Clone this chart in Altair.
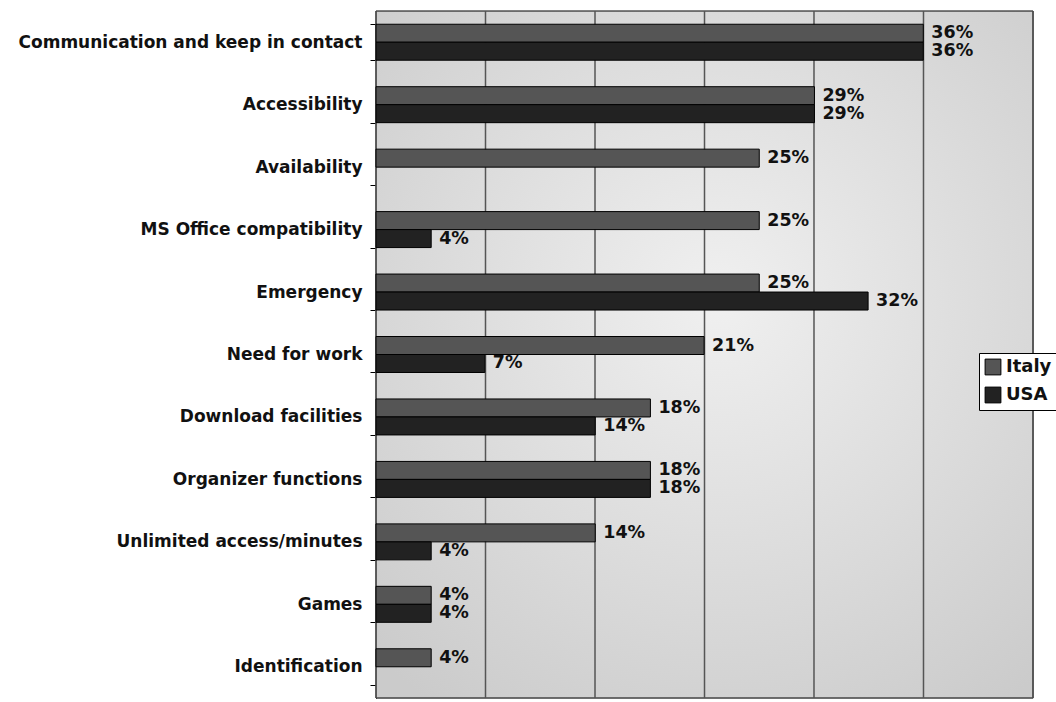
import altair as alt
import pandas as pd

categories = [
    "Communication and keep in contact",
    "Accessibility",
    "Availability",
    "MS Office compatibility",
    "Emergency",
    "Need for work\u00a0",
    "Download facilities",
    "Organizer functions\u00a0",
    "Unlimited access/minutes",
    "Games",
    "Identification",
]
series = ["Italy", "USA"]
italy = [35.7, 28.6, 25.0, 25.0, 25.0, 21.4, 17.9, 17.9, 14.3, 3.6, 3.6]
usa = [35.7, 28.6, None, 3.6, 32.1, 7.1, 14.3, 17.9, 3.6, 3.6, None]
grid_values = [0, 7.143, 14.286, 21.429, 28.571, 35.714, 42.857]
colors = ["#555555", "#222222"]

rows = []
for c, i, u in zip(categories, italy, usa):
    if i is not None:
        rows.append({"category": c, "series": "Italy", "value": i, "label": f"{i:.0f}%"})
    if u is not None:
        rows.append({"category": c, "series": "USA", "value": u, "label": f"{u:.0f}%"})
df = pd.DataFrame(rows)
grid_df = pd.DataFrame({"g": grid_values})

W, H = 657, 687
FONT = "DejaVu Sans"

xscale = alt.Scale(domain=[0, grid_values[-1]], nice=False, zero=True)
yscale = alt.Scale(domain=categories, paddingInner=0.424, paddingOuter=0.212)

bg = alt.Chart(pd.DataFrame({"a": [0]})).mark_rect(
    fill=alt.RadialGradient(
        gradient="radial",
        stops=[alt.GradientStop(color="#f0f0f0", offset=0),
               alt.GradientStop(color="#cbcbcb", offset=1)],
        x1=0.52, y1=0.42, r1=0, x2=0.52, y2=0.42, r2=0.72,
    ),
    stroke="black", strokeWidth=1,
).encode(x=alt.value(0), x2=alt.value(W), y=alt.value(0), y2=alt.value(H))

grid = alt.Chart(grid_df).mark_rule(color="#555555", strokeWidth=1.5).encode(
    x=alt.X("g:Q", scale=xscale, axis=None)
)

base = alt.Chart(df).encode(
    y=alt.Y("category:N", sort=categories, scale=yscale,
            axis=alt.Axis(title=None, tickBand="extent", tickSize=6, tickColor="black",
                          domainColor="black", labelPadding=8, labelFont=FONT,
                          labelFontWeight="bold", labelFontSize=17, labelColor="#111111",
                          labelLimit=400, grid=False)),
    yOffset=alt.YOffset("series:N", sort=series),
)

bars = base.mark_bar(stroke="black", strokeWidth=1).encode(
    x=alt.X("value:Q", scale=xscale,
            axis=alt.Axis(title=None, labels=False, grid=False, values=grid_values,
                          tickSize=4, tickColor="black", domainColor="black")),
    color=alt.Color("series:N", sort=series,
                    scale=alt.Scale(domain=series, range=colors),
                    legend=alt.Legend(title=None, orient="none", legendX=603, legendY=342,
                                      symbolType="square", symbolSize=250,
                                      symbolStrokeColor="black", symbolStrokeWidth=1,
                                      labelFont=FONT, labelFontWeight="bold",
                                      labelFontSize=18, labelColor="#111111",
                                      strokeColor="black", fillColor="white",
                                      padding=5, rowPadding=8, labelOffset=4)),
)

labels = base.mark_text(align="left", baseline="middle", dx=8, font=FONT,
                        fontWeight="bold", fontSize=17.5, color="#111111").encode(
    x=alt.X("value:Q", scale=xscale),
    text="label:N",
)

chart = alt.layer(bg, grid, bars, labels).properties(
    width=W, height=H,
    autosize=alt.AutoSizeParams(type="none"),
    padding={"left": 376, "top": 11, "right": 23, "bottom": 4},
).configure_view(stroke="black", strokeWidth=1).configure(background="white")

chart.save("out.html", embed_options={"renderer": "svg", "actions": False})
